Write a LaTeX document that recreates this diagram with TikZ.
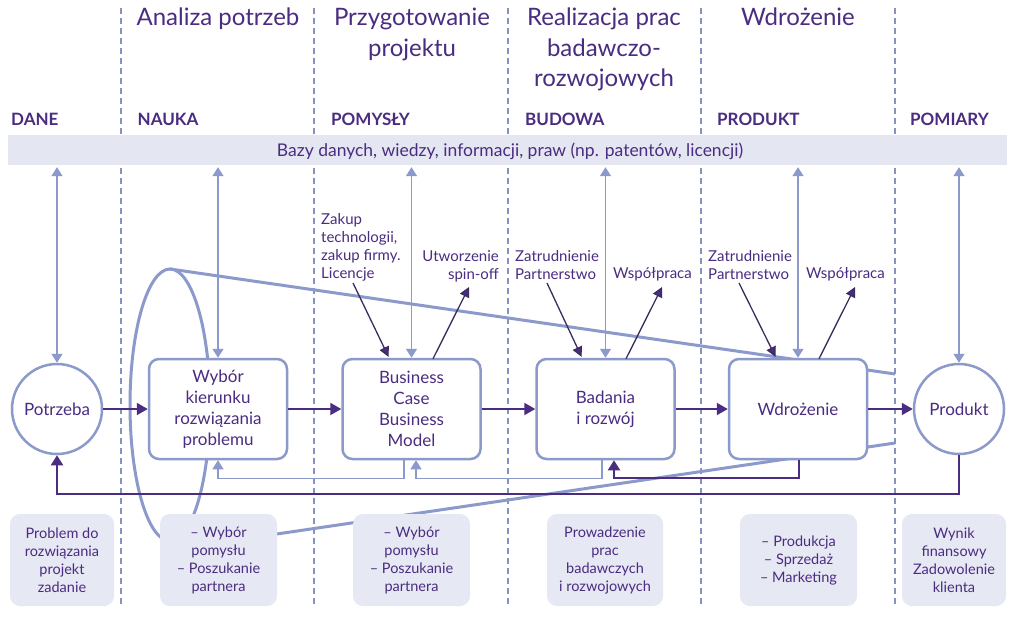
\documentclass[tikz,border=0pt]{standalone}
\usepackage{fontspec}
\setmainfont{Lato}
\usetikzlibrary{arrows.meta}
\definecolor{dpurple}{HTML}{4A2C80}
\definecolor{dline}{HTML}{3A2C5E}
\definecolor{lblue}{HTML}{8C9ACB}
\definecolor{dashc}{HTML}{8693C0}
\definecolor{bandfill}{HTML}{E4E6F2}
\definecolor{boxfill}{HTML}{E6E8F3}
\tikzset{
  phase/.style={font=\fontsize{24}{30.5}\selectfont, text=dpurple, align=center, anchor=north, inner sep=0pt},
  colhead/.style={font=\bfseries\fontsize{17}{20}\selectfont, text=dpurple, anchor=base west, inner sep=0pt},
  sep/.style={draw=dashc, line width=2.6pt, dash pattern=on 6pt off 4pt},
  band/.style={fill=bandfill, minimum width=999pt, minimum height=30pt, inner sep=0pt},
  proc/.style={draw=lblue, line width=2.5pt, rounded corners=10pt, fill=white, minimum width=138pt, minimum height=100pt, align=center, text=dpurple, font=\fontsize{17}{21}\selectfont, inner sep=0pt},
  endc/.style={circle, draw=lblue, line width=2.5pt, fill=white, minimum size=90pt, text=dpurple, font=\fontsize{17}{21}\selectfont, inner sep=0pt},
  note/.style={fill=boxfill, rounded corners=10pt, minimum height=92pt, align=center, text=dpurple, font=\fontsize{14.5}{18}\selectfont, inner sep=0pt},
  small/.style={font=\fontsize{15}{18}\selectfont, text=dpurple, inner sep=0pt},
  flow/.style={draw=dpurple, line width=2pt, -{Triangle[length=11pt,width=12pt]}},
  link/.style={draw=lblue, line width=1.5pt, {Triangle[length=9pt,width=11pt]}-{Triangle[length=9pt,width=11pt]}, shorten <=2pt},
  back/.style={draw=lblue, line width=1.5pt, -{Triangle[length=9pt,width=11pt]}},
  backp/.style={draw=dpurple, line width=2pt, -{Triangle[length=10pt,width=12pt]}},
  diag/.style={draw=dline, line width=1.3pt, -{Triangle[length=10pt,width=10pt,fill=dpurple]}},
  funnel/.style={draw=lblue, line width=3pt}
}
\begin{document}
\begin{tikzpicture}[x=1pt,y=-1pt]
\useasboundingbox[fill=white] (0,0) rectangle (1024,619);

% phase separators
\foreach \xx in {121,314,508,701,895} \draw[sep] (\xx,8) -- (\xx,606);

% phase headers
\node[phase] (h1) at (218,8) {Analiza potrzeb};
\node[phase] (h2) at (412,8) {Przygotowanie\\projektu};
\node[phase] (h3) at (604,8) {Realizacja prac\\badawczo-\\rozwojowych};
\node[phase] (h4) at (798,8) {Wdrożenie};

% column headings
\node[colhead] (c1) at (11,125) {DANE};
\node[colhead] (c2) at (137.5,125) {NAUKA};
\node[colhead] (c3) at (331,125) {POMYSŁY};
\node[colhead] (c4) at (525,125) {BUDOWA};
\node[colhead] (c5) at (717,125) {PRODUKT};
\node[colhead] (c6) at (910,125) {POMIARY};

% band
\node[band] (band) at (507.5,150) {};
\node[font=\fontsize{17.5}{20}\selectfont, text=dpurple, anchor=base, inner sep=0pt] (bandtxt) at (510,156) {Bazy danych, wiedzy, informacji, praw (np. patentów, licencji)};

% funnel
\draw[funnel] (170,405) ellipse [x radius=40, y radius=136];
\draw[funnel] (170,269) -- (895,374);
\draw[funnel] (240,539.4) -- (895,443);

% main process
\node[endc] (pot) at (57,409) {Potrzeba};
\node[proc] (wy) at (218,409) {Wybór\\kierunku\\rozwiązania\\problemu};
\node[proc] (bc) at (411.5,409) {Business\\Case\\Business\\Model};
\node[proc] (br) at (605.5,409) {Badania\\i rozwój};
\node[proc] (wd) at (798,409) {Wdrożenie};
\node[endc] (pr) at (959,409) {Produkt};

% bottom notes
\node[note, minimum width=104pt] (n1) at (62,560) {Problem do\\rozwiązania\\projekt\\zadanie};
\node[note, minimum width=117pt] (n2) at (218.5,560) {– Wybór\\pomysłu\\– Poszukanie\\partnera};
\node[note, minimum width=117pt] (n3) at (411.5,560) {– Wybór\\pomysłu\\– Poszukanie\\partnera};
\node[note, minimum width=116pt] (n4) at (605,560) {Prowadzenie\\prac\\badawczych\\i rozwojowych};
\node[note, minimum width=117pt] (n5) at (798.5,560) {– Produkcja\\– Sprzedaż\\– Marketing};
\node[note, minimum width=104pt] (n6) at (954,560) {Wynik\\finansowy\\Zadowolenie\\klienta};

% links to the band
\foreach \n in {pot,wy,bc,br,wd,pr} \draw[link] (band.south -| \n.north) -- (\n.north);

% flow
\draw[flow] (pot) -- (wy);
\draw[flow] (wy) -- (bc);
\draw[flow] (bc) -- (br);
\draw[flow] (br) -- (wd);
\draw[flow] (wd) -- (pr);

% feedback
\draw[back] ([xshift=-7.5pt]bc.south) -- ++(0,18) -| (wy.south);
\draw[back] ([xshift=-3.5pt]br.south) -- ++(0,18) -| ([xshift=4.5pt]bc.south);
\draw[backp] ([xshift=1pt]wd.south) -- ++(0,18) -| ([xshift=8.5pt]br.south);
\draw[backp] (pr.south) -- ++(0,39) -| (pot.south);

% side labels
\node[small, align=left, anchor=north west] (l1) at (321,213.5) {Zakup\\technologii,\\zakup firmy.\\Licencje};
\node[small, align=right, anchor=north east] (l2) at (499,250) {Utworzenie\\spin-off};
\node[small, align=left, anchor=north west] (l3) at (515,250) {Zatrudnienie\\Partnerstwo};
\node[small, anchor=north east] (l4) at (692,267.5) {Współpraca};
\node[small, align=left, anchor=north west] (l5) at (708,250) {Zatrudnienie\\Partnerstwo};
\node[small, anchor=north east] (l6) at (885,267.5) {Współpraca};

\coordinate (a1) at (353,283);
\coordinate (a2) at (469,287);
\coordinate (a3) at (547,283);
\coordinate (a4) at (662,287);
\coordinate (a5) at (739,283);
\coordinate (a6) at (855,287);
\draw[diag, shorten >=1pt] (a1) -- ([xshift=-22.5pt]bc.north);
\draw[diag] ([xshift=21.5pt,yshift=-1pt]bc.north) -- (a2);
\draw[diag, shorten >=1pt] (a3) -- ([xshift=-23.5pt]br.north);
\draw[diag] ([xshift=20.5pt,yshift=-1pt]br.north) -- (a4);
\draw[diag, shorten >=1pt] (a5) -- ([xshift=-22pt]wd.north);
\draw[diag] ([xshift=21pt,yshift=-1pt]wd.north) -- (a6);
\end{tikzpicture}
\end{document}
